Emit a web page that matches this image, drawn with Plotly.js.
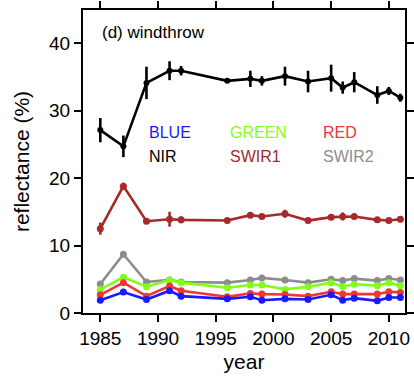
<!DOCTYPE html>
<html>
<head>
<meta charset="utf-8">
<script src="https://cdn.plot.ly/plotly-3.0.1.min.js"></script>
<style>html,body{margin:0;padding:0;background:#fff;}#chart{width:414px;height:380px;}</style>
</head>
<body>
<div id="chart"></div>
<script>
const years = [1985, 1987, 1989, 1991, 1992, 1996, 1998, 1999, 2001, 2003, 2005, 2006, 2007, 2009, 2010, 2011];
const blue  = [1.9, 3.1, 2.0, 3.3, 2.5, 2.1, 2.4, 1.9, 2.1, 2.0, 2.7, 1.9, 2.2, 1.8, 2.3, 2.3];
const green = [3.5, 5.3, 3.9, 4.9, 4.5, 3.75, 4.15, 4.15, 3.5, 3.9, 4.5, 3.9, 4.25, 4.05, 4.5, 4.05];
const red   = [2.7, 4.5, 2.5, 4.0, 3.3, 2.4, 2.9, 2.8, 2.75, 2.5, 3.15, 2.8, 2.8, 2.8, 3.15, 3.05];
const nir   = [27.1, 24.7, 34.1, 35.9, 35.9, 34.4, 34.7, 34.4, 35.1, 34.3, 34.8, 33.4, 34.2, 32.3, 32.9, 31.9];
const swir1 = [12.5, 18.8, 13.6, 13.9, 13.8, 13.7, 14.5, 14.3, 14.7, 13.7, 14.2, 14.3, 14.3, 13.8, 13.7, 13.9];
const swir2 = [4.3, 8.7, 4.6, 4.9, 4.6, 4.5, 4.9, 5.2, 4.9, 4.5, 5.0, 4.8, 5.1, 4.8, 5.1, 4.9];
const nirErr   = [1.8, 1.6, 2.4, 1.4, 0.7, 0.3, 1.2, 0.7, 1.4, 1.6, 2.0, 0.9, 1.5, 1.3, 0.6, 0.6];
const swir1Err = [0.9, 0.5, 0.3, 1.1, 0.5, 0.3, 0.4, 0.3, 0.6, 0.3, 0.4, 0.6, 0.4, 0.3, 0.3, 0.4];
const smallErr = [0.3, 0.3, 0.3, 0.3, 0.3, 0.2, 0.3, 0.3, 0.3, 0.2, 0.3, 0.3, 0.3, 0.3, 0.3, 0.3];
const bandNames = ["BLUE", "GREEN", "RED", "NIR", "SWIR1", "SWIR2"];
const bandColors = ["#1a1aff", "#7fff1a", "#f03535", "#000000", "#a52a2a", "#8c8c8c"];
const xTicks = [1985, 1990, 1995, 2000, 2005, 2010];
const yTicks = [0, 10, 20, 30, 40];

const series = [swir2, green, red, blue, swir1, nir];
const order = [5, 1, 2, 0, 4, 3];
const errs = [smallErr, smallErr, smallErr, smallErr, swir1Err, nirErr];
const traces = order.map((bi, k) => ({
  x: years, y: series[k], type: 'scatter', mode: 'lines+markers',
  name: bandNames[bi],
  line: {color: bandColors[bi], width: 2.6},
  marker: {color: bandColors[bi], size: bi === 3 ? 6 : 7},
  error_y: {type: 'data', array: errs[k], visible: true, color: bandColors[bi], thickness: 2.6, width: 0},
  showlegend: false
}));

const F = "Liberation Sans, Arial, sans-serif";
const ann = [];
const annX = [0.199, 0.450, 0.739];
const annY = [0.597, 0.518];
bandNames.forEach((n, i) => {
  ann.push({xref: 'paper', yref: 'paper', x: annX[i % 3], y: annY[Math.floor(i / 3)],
    xanchor: 'left', yanchor: 'middle', showarrow: false, text: n,
    font: {family: F, size: 16, color: bandColors[i]}});
});
ann.push({xref: 'paper', yref: 'paper', x: 0.053, y: 0.927, xanchor: 'left', yanchor: 'middle',
  showarrow: false, text: '(d) windthrow', font: {family: F, size: 17, color: '#000'}});

const layout = {
  width: 414, height: 380,
  margin: {l: 83, r: 9, t: 10, b: 67, pad: 0},
  paper_bgcolor: '#fff', plot_bgcolor: '#fff',
  font: {family: F, color: '#000'},
  xaxis: {range: [1983.5, 2011.4], tickvals: xTicks, ticktext: xTicks.map(String),
    ticks: 'outside', ticklen: 7, tickwidth: 2, tickcolor: '#000',
    showline: true, linewidth: 2, linecolor: '#000', mirror: 'ticks',
    showgrid: false, zeroline: false, tickfont: {size: 19, family: F},
    title: {text: 'year', font: {size: 21, family: F}, standoff: 7}},
  yaxis: {range: [0, 44.9], tickvals: yTicks, ticktext: yTicks.map(String),
    ticks: 'outside', ticklen: 7, tickwidth: 2, tickcolor: '#000',
    showline: true, linewidth: 2, linecolor: '#000', mirror: 'ticks',
    showgrid: false, zeroline: false, tickfont: {size: 19, family: F},
    title: {text: 'reflectance (%)', font: {size: 21, family: F}, standoff: 14}},
  annotations: ann,
  showlegend: false
};
Plotly.newPlot('chart', traces, layout, {displayModeBar: false, staticPlot: true});
</script>
</body>
</html>
